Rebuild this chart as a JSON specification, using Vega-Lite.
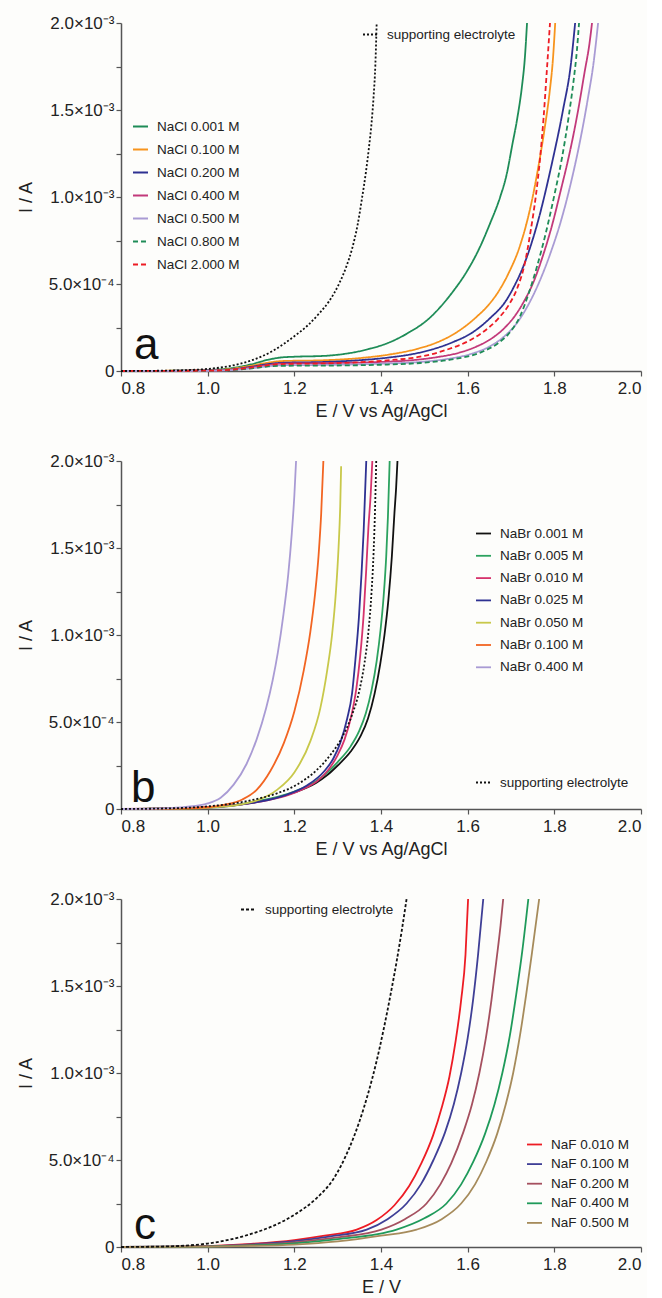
{
  "$schema": "https://vega.github.io/schema/vega-lite/v6.json",
  "background": "#fdfdfb",
  "padding": {"left": 17, "top": 14, "right": 5, "bottom": 5},
  "spacing": 32,
  "datasets": {
    "a": [
      {"s":"NaCl 0.001 M","E":0.8,"I":0},{"s":"NaCl 0.001 M","E":0.9,"I":0.000001},{"s":"NaCl 0.001 M","E":1.0,"I":0.000006},{"s":"NaCl 0.001 M","E":1.05,"I":0.000015},{"s":"NaCl 0.001 M","E":1.1,"I":0.000038},{"s":"NaCl 0.001 M","E":1.14,"I":0.000065},{"s":"NaCl 0.001 M","E":1.17,"I":0.000078},{"s":"NaCl 0.001 M","E":1.2,"I":0.000082},{"s":"NaCl 0.001 M","E":1.27,"I":0.000087},{"s":"NaCl 0.001 M","E":1.32,"I":0.0001},{"s":"NaCl 0.001 M","E":1.37,"I":0.000125},{"s":"NaCl 0.001 M","E":1.42,"I":0.000165},{"s":"NaCl 0.001 M","E":1.46,"I":0.000215},{"s":"NaCl 0.001 M","E":1.51,"I":0.0003},{"s":"NaCl 0.001 M","E":1.564,"I":0.00045},{"s":"NaCl 0.001 M","E":1.6,"I":0.00058},{"s":"NaCl 0.001 M","E":1.626,"I":0.0007},{"s":"NaCl 0.001 M","E":1.652,"I":0.00085},{"s":"NaCl 0.001 M","E":1.675,"I":0.001},{"s":"NaCl 0.001 M","E":1.69,"I":0.00113},{"s":"NaCl 0.001 M","E":1.703,"I":0.0013},{"s":"NaCl 0.001 M","E":1.715,"I":0.00146},{"s":"NaCl 0.001 M","E":1.725,"I":0.00163},{"s":"NaCl 0.001 M","E":1.732,"I":0.0018},{"s":"NaCl 0.001 M","E":1.737,"I":0.002},
      {"s":"NaCl 0.100 M","E":0.8,"I":0},{"s":"NaCl 0.100 M","E":1.0,"I":0.000004},{"s":"NaCl 0.100 M","E":1.05,"I":0.000011},{"s":"NaCl 0.100 M","E":1.1,"I":0.00003},{"s":"NaCl 0.100 M","E":1.14,"I":0.000048},{"s":"NaCl 0.100 M","E":1.17,"I":0.000057},{"s":"NaCl 0.100 M","E":1.27,"I":0.000062},{"s":"NaCl 0.100 M","E":1.35,"I":0.000074},{"s":"NaCl 0.100 M","E":1.42,"I":0.000095},{"s":"NaCl 0.100 M","E":1.48,"I":0.000125},{"s":"NaCl 0.100 M","E":1.53,"I":0.000165},{"s":"NaCl 0.100 M","E":1.573,"I":0.00022},{"s":"NaCl 0.100 M","E":1.62,"I":0.00031},{"s":"NaCl 0.100 M","E":1.65,"I":0.000385},{"s":"NaCl 0.100 M","E":1.672,"I":0.00046},{"s":"NaCl 0.100 M","E":1.695,"I":0.000565},{"s":"NaCl 0.100 M","E":1.718,"I":0.0007},{"s":"NaCl 0.100 M","E":1.735,"I":0.00084},{"s":"NaCl 0.100 M","E":1.75,"I":0.001},{"s":"NaCl 0.100 M","E":1.765,"I":0.0012},{"s":"NaCl 0.100 M","E":1.778,"I":0.0014},{"s":"NaCl 0.100 M","E":1.789,"I":0.0016},{"s":"NaCl 0.100 M","E":1.797,"I":0.0018},{"s":"NaCl 0.100 M","E":1.802,"I":0.002},
      {"s":"NaCl 0.200 M","E":0.8,"I":0},{"s":"NaCl 0.200 M","E":1.0,"I":0.000003},{"s":"NaCl 0.200 M","E":1.05,"I":0.000008},{"s":"NaCl 0.200 M","E":1.1,"I":0.000024},{"s":"NaCl 0.200 M","E":1.14,"I":0.00004},{"s":"NaCl 0.200 M","E":1.17,"I":0.000047},{"s":"NaCl 0.200 M","E":1.27,"I":0.000052},{"s":"NaCl 0.200 M","E":1.35,"I":0.000062},{"s":"NaCl 0.200 M","E":1.42,"I":0.000078},{"s":"NaCl 0.200 M","E":1.47,"I":0.000096},{"s":"NaCl 0.200 M","E":1.518,"I":0.000124},{"s":"NaCl 0.200 M","E":1.565,"I":0.000165},{"s":"NaCl 0.200 M","E":1.61,"I":0.00022},{"s":"NaCl 0.200 M","E":1.65,"I":0.0003},{"s":"NaCl 0.200 M","E":1.69,"I":0.00041},{"s":"NaCl 0.200 M","E":1.71,"I":0.0005},{"s":"NaCl 0.200 M","E":1.725,"I":0.00058},{"s":"NaCl 0.200 M","E":1.76,"I":0.00084},{"s":"NaCl 0.200 M","E":1.795,"I":0.0012},{"s":"NaCl 0.200 M","E":1.82,"I":0.0015},{"s":"NaCl 0.200 M","E":1.838,"I":0.00176},{"s":"NaCl 0.200 M","E":1.848,"I":0.002},
      {"s":"NaCl 0.400 M","E":0.8,"I":0},{"s":"NaCl 0.400 M","E":1.0,"I":0.000002},{"s":"NaCl 0.400 M","E":1.05,"I":0.000006},{"s":"NaCl 0.400 M","E":1.1,"I":0.00002},{"s":"NaCl 0.400 M","E":1.14,"I":0.000034},{"s":"NaCl 0.400 M","E":1.17,"I":0.000042},{"s":"NaCl 0.400 M","E":1.27,"I":0.000045},{"s":"NaCl 0.400 M","E":1.4,"I":0.000052},{"s":"NaCl 0.400 M","E":1.48,"I":0.000064},{"s":"NaCl 0.400 M","E":1.53,"I":0.00008},{"s":"NaCl 0.400 M","E":1.58,"I":0.000105},{"s":"NaCl 0.400 M","E":1.62,"I":0.00014},{"s":"NaCl 0.400 M","E":1.657,"I":0.00019},{"s":"NaCl 0.400 M","E":1.69,"I":0.00026},{"s":"NaCl 0.400 M","E":1.71,"I":0.00032},{"s":"NaCl 0.400 M","E":1.73,"I":0.0004},{"s":"NaCl 0.400 M","E":1.75,"I":0.0005},{"s":"NaCl 0.400 M","E":1.772,"I":0.00065},{"s":"NaCl 0.400 M","E":1.795,"I":0.00084},{"s":"NaCl 0.400 M","E":1.815,"I":0.00104},{"s":"NaCl 0.400 M","E":1.835,"I":0.00125},{"s":"NaCl 0.400 M","E":1.855,"I":0.0015},{"s":"NaCl 0.400 M","E":1.87,"I":0.00172},{"s":"NaCl 0.400 M","E":1.881,"I":0.00188},{"s":"NaCl 0.400 M","E":1.887,"I":0.002},
      {"s":"NaCl 0.500 M","E":0.8,"I":0},{"s":"NaCl 0.500 M","E":1.0,"I":0.0000015},{"s":"NaCl 0.500 M","E":1.05,"I":0.000005},{"s":"NaCl 0.500 M","E":1.1,"I":0.000015},{"s":"NaCl 0.500 M","E":1.14,"I":0.000028},{"s":"NaCl 0.500 M","E":1.17,"I":0.000033},{"s":"NaCl 0.500 M","E":1.27,"I":0.000035},{"s":"NaCl 0.500 M","E":1.4,"I":0.000042},{"s":"NaCl 0.500 M","E":1.49,"I":0.000052},{"s":"NaCl 0.500 M","E":1.55,"I":0.000068},{"s":"NaCl 0.500 M","E":1.61,"I":0.0001},{"s":"NaCl 0.500 M","E":1.65,"I":0.00014},{"s":"NaCl 0.500 M","E":1.685,"I":0.0002},{"s":"NaCl 0.500 M","E":1.715,"I":0.00028},{"s":"NaCl 0.500 M","E":1.742,"I":0.00039},{"s":"NaCl 0.500 M","E":1.765,"I":0.00051},{"s":"NaCl 0.500 M","E":1.79,"I":0.00067},{"s":"NaCl 0.500 M","E":1.815,"I":0.00086},{"s":"NaCl 0.500 M","E":1.84,"I":0.0011},{"s":"NaCl 0.500 M","E":1.86,"I":0.00133},{"s":"NaCl 0.500 M","E":1.877,"I":0.00156},{"s":"NaCl 0.500 M","E":1.891,"I":0.00178},{"s":"NaCl 0.500 M","E":1.901,"I":0.002},
      {"s":"NaCl 0.800 M","E":0.8,"I":0},{"s":"NaCl 0.800 M","E":1.0,"I":0.0000015},{"s":"NaCl 0.800 M","E":1.05,"I":0.000005},{"s":"NaCl 0.800 M","E":1.1,"I":0.000015},{"s":"NaCl 0.800 M","E":1.14,"I":0.000026},{"s":"NaCl 0.800 M","E":1.17,"I":0.00003},{"s":"NaCl 0.800 M","E":1.27,"I":0.000031},{"s":"NaCl 0.800 M","E":1.4,"I":0.000036},{"s":"NaCl 0.800 M","E":1.49,"I":0.000046},{"s":"NaCl 0.800 M","E":1.56,"I":0.000065},{"s":"NaCl 0.800 M","E":1.633,"I":0.00011},{"s":"NaCl 0.800 M","E":1.67,"I":0.00016},{"s":"NaCl 0.800 M","E":1.7,"I":0.00023},{"s":"NaCl 0.800 M","E":1.72,"I":0.00031},{"s":"NaCl 0.800 M","E":1.74,"I":0.00044},{"s":"NaCl 0.800 M","E":1.76,"I":0.0006},{"s":"NaCl 0.800 M","E":1.781,"I":0.0008},{"s":"NaCl 0.800 M","E":1.8,"I":0.00101},{"s":"NaCl 0.800 M","E":1.818,"I":0.00123},{"s":"NaCl 0.800 M","E":1.833,"I":0.00146},{"s":"NaCl 0.800 M","E":1.845,"I":0.00168},{"s":"NaCl 0.800 M","E":1.852,"I":0.00184},{"s":"NaCl 0.800 M","E":1.857,"I":0.002},
      {"s":"NaCl 2.000 M","E":0.8,"I":0},{"s":"NaCl 2.000 M","E":1.0,"I":0.000002},{"s":"NaCl 2.000 M","E":1.05,"I":0.000006},{"s":"NaCl 2.000 M","E":1.1,"I":0.00002},{"s":"NaCl 2.000 M","E":1.14,"I":0.000034},{"s":"NaCl 2.000 M","E":1.17,"I":0.00004},{"s":"NaCl 2.000 M","E":1.27,"I":0.000044},{"s":"NaCl 2.000 M","E":1.35,"I":0.00005},{"s":"NaCl 2.000 M","E":1.42,"I":0.000062},{"s":"NaCl 2.000 M","E":1.49,"I":0.000082},{"s":"NaCl 2.000 M","E":1.549,"I":0.00012},{"s":"NaCl 2.000 M","E":1.6,"I":0.00017},{"s":"NaCl 2.000 M","E":1.633,"I":0.00022},{"s":"NaCl 2.000 M","E":1.67,"I":0.0003},{"s":"NaCl 2.000 M","E":1.695,"I":0.00038},{"s":"NaCl 2.000 M","E":1.715,"I":0.00048},{"s":"NaCl 2.000 M","E":1.732,"I":0.00062},{"s":"NaCl 2.000 M","E":1.745,"I":0.0008},{"s":"NaCl 2.000 M","E":1.757,"I":0.001},{"s":"NaCl 2.000 M","E":1.767,"I":0.00122},{"s":"NaCl 2.000 M","E":1.775,"I":0.00145},{"s":"NaCl 2.000 M","E":1.782,"I":0.0017},{"s":"NaCl 2.000 M","E":1.79,"I":0.002}
    ],
    "a_se": [
      {"s":"supporting electrolyte","E":0.8,"I":0},{"s":"supporting electrolyte","E":0.9,"I":0.000002},{"s":"supporting electrolyte","E":0.95,"I":0.000005},{"s":"supporting electrolyte","E":1.0,"I":0.000012},{"s":"supporting electrolyte","E":1.05,"I":0.000028},{"s":"supporting electrolyte","E":1.1,"I":0.00006},{"s":"supporting electrolyte","E":1.15,"I":0.000115},{"s":"supporting electrolyte","E":1.2,"I":0.0002},{"s":"supporting electrolyte","E":1.23,"I":0.00026},{"s":"supporting electrolyte","E":1.257,"I":0.00033},{"s":"supporting electrolyte","E":1.28,"I":0.0004},{"s":"supporting electrolyte","E":1.303,"I":0.0005},{"s":"supporting electrolyte","E":1.32,"I":0.0006},{"s":"supporting electrolyte","E":1.333,"I":0.0007},{"s":"supporting electrolyte","E":1.346,"I":0.00084},{"s":"supporting electrolyte","E":1.356,"I":0.00099},{"s":"supporting electrolyte","E":1.365,"I":0.00114},{"s":"supporting electrolyte","E":1.372,"I":0.00128},{"s":"supporting electrolyte","E":1.378,"I":0.00142},{"s":"supporting electrolyte","E":1.383,"I":0.00158},{"s":"supporting electrolyte","E":1.387,"I":0.00176},{"s":"supporting electrolyte","E":1.39,"I":0.002}
    ],
    "b": [
      {"s":"NaBr 0.001 M","E":0.8,"I":0},{"s":"NaBr 0.001 M","E":0.95,"I":0.000003},{"s":"NaBr 0.001 M","E":1.0,"I":0.000008},{"s":"NaBr 0.001 M","E":1.1,"I":0.000035},{"s":"NaBr 0.001 M","E":1.2,"I":0.000095},{"s":"NaBr 0.001 M","E":1.25,"I":0.00015},{"s":"NaBr 0.001 M","E":1.276,"I":0.000195},{"s":"NaBr 0.001 M","E":1.3,"I":0.00025},{"s":"NaBr 0.001 M","E":1.33,"I":0.00033},{"s":"NaBr 0.001 M","E":1.353,"I":0.00042},{"s":"NaBr 0.001 M","E":1.37,"I":0.00052},{"s":"NaBr 0.001 M","E":1.385,"I":0.00066},{"s":"NaBr 0.001 M","E":1.398,"I":0.00083},{"s":"NaBr 0.001 M","E":1.408,"I":0.001},{"s":"NaBr 0.001 M","E":1.417,"I":0.0012},{"s":"NaBr 0.001 M","E":1.425,"I":0.00145},{"s":"NaBr 0.001 M","E":1.431,"I":0.0017},{"s":"NaBr 0.001 M","E":1.435,"I":0.00185},{"s":"NaBr 0.001 M","E":1.438,"I":0.002},
      {"s":"NaBr 0.005 M","E":0.8,"I":0},{"s":"NaBr 0.005 M","E":1.0,"I":0.000009},{"s":"NaBr 0.005 M","E":1.1,"I":0.000038},{"s":"NaBr 0.005 M","E":1.2,"I":0.0001},{"s":"NaBr 0.005 M","E":1.25,"I":0.00016},{"s":"NaBr 0.005 M","E":1.276,"I":0.00021},{"s":"NaBr 0.005 M","E":1.3,"I":0.00027},{"s":"NaBr 0.005 M","E":1.33,"I":0.00036},{"s":"NaBr 0.005 M","E":1.35,"I":0.00045},{"s":"NaBr 0.005 M","E":1.365,"I":0.00055},{"s":"NaBr 0.005 M","E":1.378,"I":0.00068},{"s":"NaBr 0.005 M","E":1.39,"I":0.00085},{"s":"NaBr 0.005 M","E":1.399,"I":0.00103},{"s":"NaBr 0.005 M","E":1.406,"I":0.00122},{"s":"NaBr 0.005 M","E":1.412,"I":0.00145},{"s":"NaBr 0.005 M","E":1.416,"I":0.00168},{"s":"NaBr 0.005 M","E":1.42,"I":0.002},
      {"s":"NaBr 0.010 M","E":0.8,"I":0},{"s":"NaBr 0.010 M","E":1.0,"I":0.00001},{"s":"NaBr 0.010 M","E":1.06,"I":0.000022},{"s":"NaBr 0.010 M","E":1.12,"I":0.000042},{"s":"NaBr 0.010 M","E":1.18,"I":0.000075},{"s":"NaBr 0.010 M","E":1.229,"I":0.000125},{"s":"NaBr 0.010 M","E":1.253,"I":0.00016},{"s":"NaBr 0.010 M","E":1.28,"I":0.00023},{"s":"NaBr 0.010 M","E":1.3,"I":0.00031},{"s":"NaBr 0.010 M","E":1.316,"I":0.0004},{"s":"NaBr 0.010 M","E":1.332,"I":0.00054},{"s":"NaBr 0.010 M","E":1.343,"I":0.00069},{"s":"NaBr 0.010 M","E":1.352,"I":0.00088},{"s":"NaBr 0.010 M","E":1.36,"I":0.00112},{"s":"NaBr 0.010 M","E":1.366,"I":0.00138},{"s":"NaBr 0.010 M","E":1.371,"I":0.00162},{"s":"NaBr 0.010 M","E":1.376,"I":0.0018},{"s":"NaBr 0.010 M","E":1.38,"I":0.002},
      {"s":"NaBr 0.025 M","E":0.8,"I":0},{"s":"NaBr 0.025 M","E":1.0,"I":0.000008},{"s":"NaBr 0.025 M","E":1.06,"I":0.00002},{"s":"NaBr 0.025 M","E":1.12,"I":0.000042},{"s":"NaBr 0.025 M","E":1.18,"I":0.00008},{"s":"NaBr 0.025 M","E":1.229,"I":0.000135},{"s":"NaBr 0.025 M","E":1.27,"I":0.00022},{"s":"NaBr 0.025 M","E":1.29,"I":0.00029},{"s":"NaBr 0.025 M","E":1.306,"I":0.00038},{"s":"NaBr 0.025 M","E":1.322,"I":0.00052},{"s":"NaBr 0.025 M","E":1.333,"I":0.00066},{"s":"NaBr 0.025 M","E":1.341,"I":0.00086},{"s":"NaBr 0.025 M","E":1.349,"I":0.0011},{"s":"NaBr 0.025 M","E":1.355,"I":0.00135},{"s":"NaBr 0.025 M","E":1.36,"I":0.0016},{"s":"NaBr 0.025 M","E":1.366,"I":0.002},
      {"s":"NaBr 0.050 M","E":0.8,"I":0},{"s":"NaBr 0.050 M","E":0.95,"I":0.000003},{"s":"NaBr 0.050 M","E":1.0,"I":0.000007},{"s":"NaBr 0.050 M","E":1.074,"I":0.000025},{"s":"NaBr 0.050 M","E":1.12,"I":0.000055},{"s":"NaBr 0.050 M","E":1.16,"I":0.00011},{"s":"NaBr 0.050 M","E":1.2,"I":0.00021},{"s":"NaBr 0.050 M","E":1.237,"I":0.00039},{"s":"NaBr 0.050 M","E":1.26,"I":0.00058},{"s":"NaBr 0.050 M","E":1.276,"I":0.0008},{"s":"NaBr 0.050 M","E":1.287,"I":0.001},{"s":"NaBr 0.050 M","E":1.296,"I":0.00125},{"s":"NaBr 0.050 M","E":1.302,"I":0.0015},{"s":"NaBr 0.050 M","E":1.306,"I":0.00175},{"s":"NaBr 0.050 M","E":1.308,"I":0.00197},
      {"s":"NaBr 0.100 M","E":0.8,"I":0},{"s":"NaBr 0.100 M","E":0.95,"I":0.000004},{"s":"NaBr 0.100 M","E":1.0,"I":0.00001},{"s":"NaBr 0.100 M","E":1.04,"I":0.000025},{"s":"NaBr 0.100 M","E":1.08,"I":0.000055},{"s":"NaBr 0.100 M","E":1.113,"I":0.00011},{"s":"NaBr 0.100 M","E":1.145,"I":0.00022},{"s":"NaBr 0.100 M","E":1.176,"I":0.00038},{"s":"NaBr 0.100 M","E":1.2,"I":0.00056},{"s":"NaBr 0.100 M","E":1.222,"I":0.0008},{"s":"NaBr 0.100 M","E":1.237,"I":0.00102},{"s":"NaBr 0.100 M","E":1.248,"I":0.00124},{"s":"NaBr 0.100 M","E":1.256,"I":0.00146},{"s":"NaBr 0.100 M","E":1.262,"I":0.0017},{"s":"NaBr 0.100 M","E":1.267,"I":0.002},
      {"s":"NaBr 0.400 M","E":0.8,"I":0},{"s":"NaBr 0.400 M","E":0.9,"I":0.000004},{"s":"NaBr 0.400 M","E":0.95,"I":0.000012},{"s":"NaBr 0.400 M","E":1.0,"I":0.000032},{"s":"NaBr 0.400 M","E":1.03,"I":0.000065},{"s":"NaBr 0.400 M","E":1.06,"I":0.00014},{"s":"NaBr 0.400 M","E":1.09,"I":0.00026},{"s":"NaBr 0.400 M","E":1.113,"I":0.0004},{"s":"NaBr 0.400 M","E":1.135,"I":0.00058},{"s":"NaBr 0.400 M","E":1.15,"I":0.00074},{"s":"NaBr 0.400 M","E":1.162,"I":0.0009},{"s":"NaBr 0.400 M","E":1.175,"I":0.00112},{"s":"NaBr 0.400 M","E":1.186,"I":0.00135},{"s":"NaBr 0.400 M","E":1.194,"I":0.00158},{"s":"NaBr 0.400 M","E":1.2,"I":0.0018},{"s":"NaBr 0.400 M","E":1.204,"I":0.002}
    ],
    "b_se": [
      {"s":"supporting electrolyte","E":0.8,"I":0},{"s":"supporting electrolyte","E":0.9,"I":0.000003},{"s":"supporting electrolyte","E":1.0,"I":0.000015},{"s":"supporting electrolyte","E":1.1,"I":0.00005},{"s":"supporting electrolyte","E":1.16,"I":0.00009},{"s":"supporting electrolyte","E":1.206,"I":0.00014},{"s":"supporting electrolyte","E":1.25,"I":0.00022},{"s":"supporting electrolyte","E":1.283,"I":0.00031},{"s":"supporting electrolyte","E":1.31,"I":0.00041},{"s":"supporting electrolyte","E":1.333,"I":0.00054},{"s":"supporting electrolyte","E":1.35,"I":0.00068},{"s":"supporting electrolyte","E":1.362,"I":0.00084},{"s":"supporting electrolyte","E":1.371,"I":0.00102},{"s":"supporting electrolyte","E":1.378,"I":0.00124},{"s":"supporting electrolyte","E":1.383,"I":0.00148},{"s":"supporting electrolyte","E":1.386,"I":0.0017},{"s":"supporting electrolyte","E":1.389,"I":0.002}
    ],
    "c": [
      {"s":"NaF 0.010 M","E":0.8,"I":0},{"s":"NaF 0.010 M","E":0.9,"I":0.000001},{"s":"NaF 0.010 M","E":1.0,"I":0.000005},{"s":"NaF 0.010 M","E":1.1,"I":0.000018},{"s":"NaF 0.010 M","E":1.2,"I":0.00004},{"s":"NaF 0.010 M","E":1.27,"I":0.000065},{"s":"NaF 0.010 M","E":1.344,"I":0.0001},{"s":"NaF 0.010 M","E":1.39,"I":0.000155},{"s":"NaF 0.010 M","E":1.431,"I":0.00024},{"s":"NaF 0.010 M","E":1.465,"I":0.00035},{"s":"NaF 0.010 M","E":1.493,"I":0.00048},{"s":"NaF 0.010 M","E":1.52,"I":0.00064},{"s":"NaF 0.010 M","E":1.54,"I":0.0008},{"s":"NaF 0.010 M","E":1.558,"I":0.00098},{"s":"NaF 0.010 M","E":1.572,"I":0.00118},{"s":"NaF 0.010 M","E":1.585,"I":0.00142},{"s":"NaF 0.010 M","E":1.595,"I":0.00168},{"s":"NaF 0.010 M","E":1.601,"I":0.002},
      {"s":"NaF 0.100 M","E":0.8,"I":0},{"s":"NaF 0.100 M","E":1.0,"I":0.000004},{"s":"NaF 0.100 M","E":1.1,"I":0.000015},{"s":"NaF 0.100 M","E":1.2,"I":0.000034},{"s":"NaF 0.100 M","E":1.28,"I":0.00006},{"s":"NaF 0.100 M","E":1.367,"I":0.0001},{"s":"NaF 0.100 M","E":1.415,"I":0.00016},{"s":"NaF 0.100 M","E":1.459,"I":0.00025},{"s":"NaF 0.100 M","E":1.492,"I":0.00036},{"s":"NaF 0.100 M","E":1.521,"I":0.0005},{"s":"NaF 0.100 M","E":1.548,"I":0.00066},{"s":"NaF 0.100 M","E":1.568,"I":0.00082},{"s":"NaF 0.100 M","E":1.585,"I":0.001},{"s":"NaF 0.100 M","E":1.6,"I":0.0012},{"s":"NaF 0.100 M","E":1.613,"I":0.00143},{"s":"NaF 0.100 M","E":1.624,"I":0.00168},{"s":"NaF 0.100 M","E":1.636,"I":0.002},
      {"s":"NaF 0.200 M","E":0.8,"I":0},{"s":"NaF 0.200 M","E":1.0,"I":0.000003},{"s":"NaF 0.200 M","E":1.1,"I":0.000012},{"s":"NaF 0.200 M","E":1.2,"I":0.000027},{"s":"NaF 0.200 M","E":1.3,"I":0.000055},{"s":"NaF 0.200 M","E":1.401,"I":0.0001},{"s":"NaF 0.200 M","E":1.455,"I":0.00016},{"s":"NaF 0.200 M","E":1.505,"I":0.00025},{"s":"NaF 0.200 M","E":1.537,"I":0.00036},{"s":"NaF 0.200 M","E":1.562,"I":0.00048},{"s":"NaF 0.200 M","E":1.59,"I":0.00066},{"s":"NaF 0.200 M","E":1.61,"I":0.00082},{"s":"NaF 0.200 M","E":1.627,"I":0.001},{"s":"NaF 0.200 M","E":1.642,"I":0.0012},{"s":"NaF 0.200 M","E":1.655,"I":0.00142},{"s":"NaF 0.200 M","E":1.667,"I":0.00166},{"s":"NaF 0.200 M","E":1.676,"I":0.00185},{"s":"NaF 0.200 M","E":1.682,"I":0.002},
      {"s":"NaF 0.400 M","E":0.8,"I":0},{"s":"NaF 0.400 M","E":1.0,"I":0.0000025},{"s":"NaF 0.400 M","E":1.1,"I":0.000009},{"s":"NaF 0.400 M","E":1.2,"I":0.000021},{"s":"NaF 0.400 M","E":1.3,"I":0.000045},{"s":"NaF 0.400 M","E":1.436,"I":0.0001},{"s":"NaF 0.400 M","E":1.5,"I":0.000165},{"s":"NaF 0.400 M","E":1.551,"I":0.00025},{"s":"NaF 0.400 M","E":1.585,"I":0.00036},{"s":"NaF 0.400 M","E":1.613,"I":0.00049},{"s":"NaF 0.400 M","E":1.64,"I":0.00065},{"s":"NaF 0.400 M","E":1.662,"I":0.00082},{"s":"NaF 0.400 M","E":1.68,"I":0.001},{"s":"NaF 0.400 M","E":1.697,"I":0.00121},{"s":"NaF 0.400 M","E":1.712,"I":0.00145},{"s":"NaF 0.400 M","E":1.726,"I":0.0017},{"s":"NaF 0.400 M","E":1.74,"I":0.002},
      {"s":"NaF 0.500 M","E":0.8,"I":0},{"s":"NaF 0.500 M","E":1.0,"I":0.000002},{"s":"NaF 0.500 M","E":1.1,"I":0.000006},{"s":"NaF 0.500 M","E":1.2,"I":0.000014},{"s":"NaF 0.500 M","E":1.3,"I":0.000032},{"s":"NaF 0.500 M","E":1.4,"I":0.000065},{"s":"NaF 0.500 M","E":1.482,"I":0.0001},{"s":"NaF 0.500 M","E":1.54,"I":0.00016},{"s":"NaF 0.500 M","E":1.585,"I":0.00025},{"s":"NaF 0.500 M","E":1.617,"I":0.00036},{"s":"NaF 0.500 M","E":1.643,"I":0.00049},{"s":"NaF 0.500 M","E":1.668,"I":0.00065},{"s":"NaF 0.500 M","E":1.688,"I":0.00082},{"s":"NaF 0.500 M","E":1.705,"I":0.001},{"s":"NaF 0.500 M","E":1.721,"I":0.00122},{"s":"NaF 0.500 M","E":1.735,"I":0.00145},{"s":"NaF 0.500 M","E":1.75,"I":0.00172},{"s":"NaF 0.500 M","E":1.765,"I":0.002}
    ],
    "c_se": [
      {"s":"supporting electrolyte","E":0.8,"I":0},{"s":"supporting electrolyte","E":0.9,"I":0.000003},{"s":"supporting electrolyte","E":0.95,"I":0.000008},{"s":"supporting electrolyte","E":1.0,"I":0.00002},{"s":"supporting electrolyte","E":1.05,"I":0.000042},{"s":"supporting electrolyte","E":1.1,"I":0.000075},{"s":"supporting electrolyte","E":1.15,"I":0.00012},{"s":"supporting electrolyte","E":1.2,"I":0.000185},{"s":"supporting electrolyte","E":1.251,"I":0.00028},{"s":"supporting electrolyte","E":1.29,"I":0.00039},{"s":"supporting electrolyte","E":1.327,"I":0.00057},{"s":"supporting electrolyte","E":1.35,"I":0.00072},{"s":"supporting electrolyte","E":1.37,"I":0.00088},{"s":"supporting electrolyte","E":1.39,"I":0.00107},{"s":"supporting electrolyte","E":1.406,"I":0.00125},{"s":"supporting electrolyte","E":1.422,"I":0.00145},{"s":"supporting electrolyte","E":1.436,"I":0.00164},{"s":"supporting electrolyte","E":1.448,"I":0.00182},{"s":"supporting electrolyte","E":1.459,"I":0.002}
    ]
  },
  "config": {
    "font": "Liberation Sans",
    "view": {"stroke": null},
    "axis": {"grid": false, "domainColor": "#555", "tickColor": "#555", "domainWidth": 1.5, "tickWidth": 1.2, "tickSize": 5, "labelColor": "#222", "titleColor": "#222", "labelFontSize": 17, "titleFontSize": 18, "titleFontWeight": "normal", "labelFont": "Liberation Sans", "titleFont": "Liberation Sans"},
    "axisX": {"labelPadding": 4, "titlePadding": 6},
    "axisY": {"labelPadding": 2, "titlePadding": 13},
    "legend": {"symbolType": "stroke", "symbolStrokeWidth": 2, "symbolSize": 225, "labelFontSize": 13.5, "labelColor": "#222", "labelFont": "Liberation Sans", "padding": 0, "rowPadding": 8, "labelOffset": 8},
    "line": {"strokeWidth": 1.8, "interpolate": "monotone", "clip": true}
  },
  "vconcat": [
    {
      "width": 520, "height": 348,
      "layer": [
        {
          "data": {"name": "a"},
          "mark": "line",
          "encoding": {
            "x": {"field": "E", "type": "quantitative", "scale": {"domain": [0.8, 2.0], "nice": false}, "axis": {"title": "E / V vs Ag/AgCl", "values": [0.8, 1.0, 1.2, 1.4, 1.6, 1.8, 2.0], "format": ".1f"}},
            "y": {"field": "I", "type": "quantitative", "scale": {"domain": [0, 0.002], "nice": false}, "axis": {"title": "I / A", "values": [0,0.000125,0.00025,0.000375,0.0005,0.000625,0.00075,0.000875,0.001,0.001125,0.00125,0.001375,0.0015,0.001625,0.00175,0.001875,0.002], "labelOverlap": false, "labelExpr": "round(datum.value*1e6)==0?'0':round(datum.value*1e6)==500?'5.0×10⁻⁴':round(datum.value*1e6)==1000?'1.0×10⁻³':round(datum.value*1e6)==1500?'1.5×10⁻³':round(datum.value*1e6)==2000?'2.0×10⁻³':''"}},
            "color": {"field": "s", "type": "nominal", "scale": {"domain": ["NaCl 0.001 M","NaCl 0.100 M","NaCl 0.200 M","NaCl 0.400 M","NaCl 0.500 M","NaCl 0.800 M","NaCl 2.000 M"], "range": ["#1e8c57","#f7941d","#2e3192","#c2397a","#a99bd4","#1e8c57","#ed1c24"]}, "legend": {"title": null, "orient": "none", "legendX": 11, "legendY": 95}},
            "strokeDash": {"field": "s", "type": "nominal", "scale": {"domain": ["NaCl 0.001 M","NaCl 0.100 M","NaCl 0.200 M","NaCl 0.400 M","NaCl 0.500 M","NaCl 0.800 M","NaCl 2.000 M"], "range": [[1,0],[1,0],[1,0],[1,0],[1,0],[5,3],[5,3]]}, "legend": {"title": null, "orient": "none", "legendX": 11, "legendY": 95}}
          }
        },
        {
          "data": {"name": "a_se"},
          "mark": "line",
          "encoding": {
            "x": {"field": "E", "type": "quantitative"},
            "y": {"field": "I", "type": "quantitative"},
            "color": {"field": "s", "type": "nominal", "scale": {"domain": ["supporting electrolyte"], "range": ["#111111"]}, "legend": {"title": null, "orient": "none", "legendX": 241, "legendY": 3}},
            "strokeDash": {"field": "s", "type": "nominal", "scale": {"domain": ["supporting electrolyte"], "range": [[2,2]]}, "legend": {"title": null, "orient": "none", "legendX": 241, "legendY": 3}}
          }
        },
        {
          "data": {"values": [{}]},
          "mark": {"type": "text", "fontSize": 44, "align": "left", "baseline": "alphabetic", "color": "#111"},
          "encoding": {"x": {"datum": 0.83}, "y": {"datum": 0.00007}, "text": {"value": "a"}}
        }
      ],
      "resolve": {"scale": {"color": "independent", "strokeDash": "independent"}}
    },
    {
      "width": 520, "height": 348,
      "layer": [
        {
          "data": {"name": "b"},
          "mark": "line",
          "encoding": {
            "x": {"field": "E", "type": "quantitative", "scale": {"domain": [0.8, 2.0], "nice": false}, "axis": {"title": "E / V vs Ag/AgCl", "values": [0.8, 1.0, 1.2, 1.4, 1.6, 1.8, 2.0], "format": ".1f"}},
            "y": {"field": "I", "type": "quantitative", "scale": {"domain": [0, 0.002], "nice": false}, "axis": {"title": "I / A", "values": [0,0.000125,0.00025,0.000375,0.0005,0.000625,0.00075,0.000875,0.001,0.001125,0.00125,0.001375,0.0015,0.001625,0.00175,0.001875,0.002], "labelOverlap": false, "labelExpr": "round(datum.value*1e6)==0?'0':round(datum.value*1e6)==500?'5.0×10⁻⁴':round(datum.value*1e6)==1000?'1.0×10⁻³':round(datum.value*1e6)==1500?'1.5×10⁻³':round(datum.value*1e6)==2000?'2.0×10⁻³':''"}},
            "color": {"field": "s", "type": "nominal", "scale": {"domain": ["NaBr 0.001 M","NaBr 0.005 M","NaBr 0.010 M","NaBr 0.025 M","NaBr 0.050 M","NaBr 0.100 M","NaBr 0.400 M"], "range": ["#111111","#2ca25f","#d6336c","#2e3192","#c8c84a","#f26522","#a99bd4"]}, "legend": {"title": null, "orient": "none", "legendX": 354, "legendY": 64, "rowPadding": 7.3}}
          }
        },
        {
          "data": {"name": "b_se"},
          "mark": "line",
          "encoding": {
            "x": {"field": "E", "type": "quantitative"},
            "y": {"field": "I", "type": "quantitative"},
            "color": {"field": "s", "type": "nominal", "scale": {"domain": ["supporting electrolyte"], "range": ["#111111"]}, "legend": {"title": null, "orient": "none", "legendX": 354, "legendY": 313}},
            "strokeDash": {"field": "s", "type": "nominal", "scale": {"domain": ["supporting electrolyte"], "range": [[2,2]]}, "legend": {"title": null, "orient": "none", "legendX": 354, "legendY": 313}}
          }
        },
        {
          "data": {"values": [{}]},
          "mark": {"type": "text", "fontSize": 44, "align": "left", "baseline": "alphabetic", "color": "#111"},
          "encoding": {"x": {"datum": 0.823}, "y": {"datum": 0.00004}, "text": {"value": "b"}}
        }
      ],
      "resolve": {"scale": {"color": "independent", "strokeDash": "independent"}}
    },
    {
      "width": 520, "height": 348,
      "layer": [
        {
          "data": {"name": "c"},
          "mark": "line",
          "encoding": {
            "x": {"field": "E", "type": "quantitative", "scale": {"domain": [0.8, 2.0], "nice": false}, "axis": {"title": "E / V", "values": [0.8, 1.0, 1.2, 1.4, 1.6, 1.8, 2.0], "format": ".1f"}},
            "y": {"field": "I", "type": "quantitative", "scale": {"domain": [0, 0.002], "nice": false}, "axis": {"title": "I / A", "values": [0,0.000125,0.00025,0.000375,0.0005,0.000625,0.00075,0.000875,0.001,0.001125,0.00125,0.001375,0.0015,0.001625,0.00175,0.001875,0.002], "labelOverlap": false, "labelExpr": "round(datum.value*1e6)==0?'0':round(datum.value*1e6)==500?'5.0×10⁻⁴':round(datum.value*1e6)==1000?'1.0×10⁻³':round(datum.value*1e6)==1500?'1.5×10⁻³':round(datum.value*1e6)==2000?'2.0×10⁻³':''"}},
            "color": {"field": "s", "type": "nominal", "scale": {"domain": ["NaF 0.010 M","NaF 0.100 M","NaF 0.200 M","NaF 0.400 M","NaF 0.500 M"], "range": ["#ed1c24","#3f3f96","#a5505f","#1f9a5a","#a68b5b"]}, "legend": {"title": null, "orient": "none", "legendX": 405, "legendY": 237, "rowPadding": 4.6}}
          }
        },
        {
          "data": {"name": "c_se"},
          "mark": "line",
          "encoding": {
            "x": {"field": "E", "type": "quantitative"},
            "y": {"field": "I", "type": "quantitative"},
            "color": {"field": "s", "type": "nominal", "scale": {"domain": ["supporting electrolyte"], "range": ["#111111"]}, "legend": {"title": null, "orient": "none", "legendX": 119, "legendY": 2}},
            "strokeDash": {"field": "s", "type": "nominal", "scale": {"domain": ["supporting electrolyte"], "range": [[3,2]]}, "legend": {"title": null, "orient": "none", "legendX": 119, "legendY": 2}}
          }
        },
        {
          "data": {"values": [{}]},
          "mark": {"type": "text", "fontSize": 44, "align": "left", "baseline": "alphabetic", "color": "#111"},
          "encoding": {"x": {"datum": 0.83}, "y": {"datum": 0.000046}, "text": {"value": "c"}}
        }
      ],
      "resolve": {"scale": {"color": "independent", "strokeDash": "independent"}}
    }
  ]
}
